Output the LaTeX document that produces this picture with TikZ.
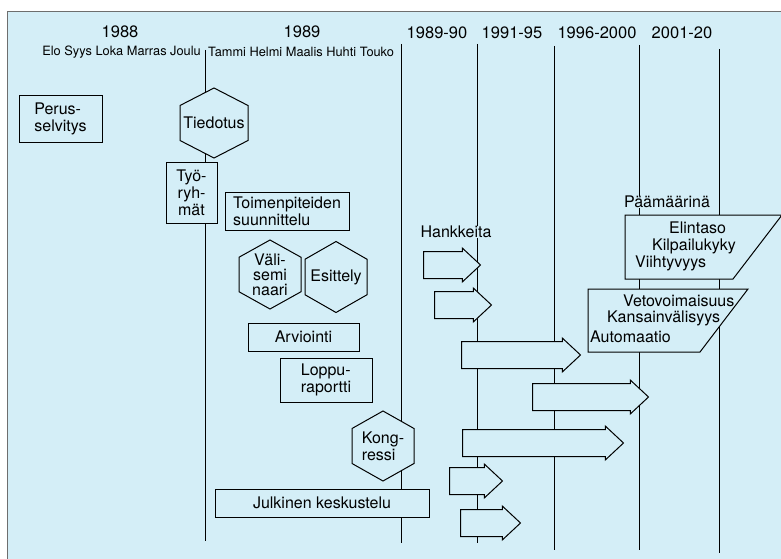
\documentclass[tikz,border=0pt]{standalone}
\usepackage{fontspec}
\setmainfont{TeX Gyre Heros}
\usetikzlibrary{shapes.arrows}
\definecolor{tausta}{RGB}{212,238,247}
\definecolor{kehys}{RGB}{110,110,110}
\newcommand{\kuusi}[3]{\draw[kuvio] (#1) ++(0,-#3/2) -- ++(#2/2,#3/4) -- ++(0,#3/2) -- ++(-#2/2,#3/4) -- ++(-#2/2,-#3/4) -- ++(0,-#3/2) -- cycle;}

\begin{document}
\begin{tikzpicture}[x=1pt,y=-1pt,inner sep=0pt,
	font=\fontsize{16}{17}\selectfont,
	kuvio/.style={draw,line width=1pt,fill=tausta},
	laatikko/.style={kuvio,rectangle,align=left},
	hanke/.style={kuvio,single arrow,single arrow head extend=3.5pt,single arrow tip angle=86,inner xsep=0pt,inner ysep=13pt,anchor=tail},
	raja/.style={line width=0.8pt},
	vuosi/.style={font=\fontsize{16.5}{18}\selectfont},
	kuukausi/.style={font=\fontsize{12.8}{14}\selectfont}]
	\useasboundingbox (0,0) rectangle (781,559);
	\fill[tausta] (7,12) rectangle (781,559);
	\draw[kehys,line width=1pt] (7,559) -- (7,12) -- (781,12);
	
	% otsikot
	\node[vuosi] (v1988) at (120,32) {1988};
	\node[vuosi] (v1989) at (302,32) {1989};
	\node[vuosi] (v8990) at (437,33) {1989-90};
	\node[vuosi] (v9195) at (512,33) {1991-95};
	\node[vuosi] (v9600) at (597,33) {1996-2000};
	\node[vuosi] (v0120) at (682,33) {2001-20};
	\node[kuukausi,anchor=east] (syksy) at (201,52) {Elo Syys Loka Marras Joulu};
	\node[kuukausi,anchor=west] (kevat) at (208,52) {Tammi Helmi Maalis Huhti Touko};
	
	\foreach \x/\a/\b in {205/50/541,401/44/543,477/44/543,554/46/550,639/45/550,719/49/553}
		\draw[raja] (\x,\a) -- (\x,\b);
	
	% vaiheet
	\node[laatikko,minimum width=83pt,minimum height=46pt] (perus) at (60.5,119) {Perus-\\selvitys};
	\coordinate (tied) at (214,123); \kuusi{tied}{68}{70}
	\node (tiedotus) at (tied) {Tiedotus};
	\node[laatikko,align=center,minimum width=51pt,minimum height=61pt] (tyo) at (191.5,192.5) {Työ-\\ryh-\\mät};
	\node[laatikko,minimum width=124pt,minimum height=38pt] (toimen) at (287,211) {Toimenpiteiden\\suunnittelu};
	\coordinate (vali) at (270,274.5); \kuusi{vali}{62}{69}
	\node[align=center,font=\fontsize{16}{15}\selectfont] (semin) at (vali) {Väli-\\semi\\naari};
	\coordinate (esit) at (336,277); \kuusi{esit}{62}{71}
	\node (esittely) at (esit) {Esittely};
	\node[laatikko,minimum width=111pt,minimum height=28pt] (arv) at (303.5,337) {Arviointi};
	\node[laatikko,minimum width=92pt,minimum height=44pt] (loppu) at (326,380) {Loppu-\\raportti};
	\coordinate (kong) at (383,446); \kuusi{kong}{62}{70}
	\node[align=left] (kongr) at (kong) {Kong-\\ressi};
	\node[laatikko,minimum width=214pt,minimum height=28pt] (julk) at (322,503) {Julkinen keskustelu};
	
	% hankkeet
	\node[fill=tausta] (hankkeita) at (456,232) {Hankkeita};
	\foreach \n/\x/\y/\l in {1/423/265/57,2/434/305/57,3/461/355/119,4/532/397/116,5/462/443/161,6/449/481/53,7/460/523/60}
		\node[hanke,minimum height=\l pt] (h\n) at (\x,\y) {};
	
	% päämäärät
	\node[fill=tausta] (paamaara) at (667,202) {Päämäärinä};
	\draw[kuvio] (625,215) -- (782,215) -- (733,279) -- (625,279) -- cycle;
	\draw[kuvio] (588,289) -- (748,289) -- (700,352) -- (588,352) -- cycle;
	\node[anchor=west] (elintaso) at (669,228) {Elintaso};
	\node[anchor=west] (kilpailu) at (652,246) {Kilpailukyky};
	\node[anchor=west] (viihtyvyys) at (635,263) {Viihtyvyys};
	\node[anchor=west] (veto) at (623,301) {Vetovoimaisuus};
	\node[anchor=west] (kansain) at (607,318) {Kansainvälisyys};
	\node[anchor=west] (auto) at (590,337) {Automaatio};
\end{tikzpicture}
\end{document}
